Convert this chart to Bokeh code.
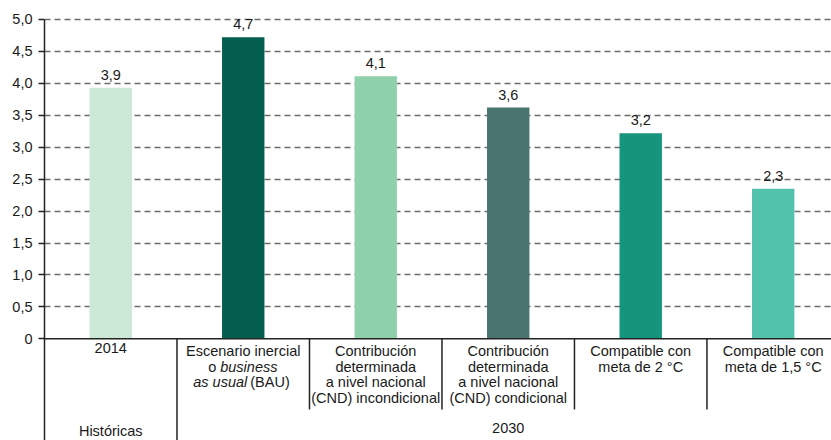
from bokeh.plotting import figure
from bokeh.models import Range1d, FixedTicker, CustomJSTickFormatter, Span, ColumnDataSource
from bokeh.core.properties import value
from bokeh.embed import file_html
from bokeh.resources import INLINE

# ---- data ----
categories = ["2014", "BAU", "CND incondicional", "CND condicional", "Meta 2 °C", "Meta 1,5 °C"]
values = [3.93, 4.72, 4.11, 3.62, 3.22, 2.35]
value_labels = ["3,9", "4,7", "4,1", "3,6", "3,2", "2,3"]
colors = ["#cce8d6", "#035e4e", "#8fd1ab", "#4a756e", "#14957c", "#52c2ab"]
y_ticks = [0, 0.5, 1.0, 1.5, 2.0, 2.5, 3.0, 3.5, 4.0, 4.5, 5.0]
cat_lines = [
    ["2014"],
    ["Escenario inercial"],
    ["Contribución", "determinada", "a nivel nacional", "(CND) incondicional"],
    ["Contribución", "determinada", "a nivel nacional", "(CND) condicional"],
    ["Compatible con", "meta de 2 °C"],
    ["Compatible con", "meta de 1,5 °C"],
]
group_labels = ["Históricas", "2030"]
group_first = [0, 1]
group_last = [0, 5]

FONT = "Liberation Sans"
FS = "14.5px"
TXT = "#1a1a1a"
LINE = "#222222"

n = len(categories)
centers = [i + 0.5 for i in range(n)]
y_min, y_max = -1.592, 5.297

p = figure(width=831, height=440, output_backend="svg", toolbar_location=None,
           x_range=Range1d(0, 5.94), y_range=Range1d(y_min, y_max),
           min_border_left=44, min_border_right=0, min_border_top=0, min_border_bottom=0)
p.outline_line_color = None
p.xaxis.visible = False
p.xgrid.visible = False

ax = p.yaxis[0]
ax.ticker = FixedTicker(ticks=y_ticks)
ax.bounds = (y_min, 5.0)
ax.formatter = CustomJSTickFormatter(code="return tick == 0 ? '0' : tick.toFixed(1).replace('.', ',');")
ax.major_tick_in = 0
ax.major_tick_out = 6
ax.minor_tick_out = 0
ax.minor_tick_in = 0
ax.major_label_standoff = 6
ax.axis_line_color = LINE
ax.axis_line_width = 1.5
ax.major_tick_line_color = LINE
ax.major_tick_line_width = 1.3
ax.major_label_text_font = FONT
ax.major_label_text_font_size = FS
ax.major_label_text_color = TXT

p.ygrid.ticker = FixedTicker(ticks=y_ticks[1:])
p.ygrid.grid_line_color = "#6b6b6b"
p.ygrid.grid_line_dash = "6 4"
p.ygrid.grid_line_width = 1.3

# bars
src = ColumnDataSource(dict(x=centers, top=values, color=colors, label=value_labels))
p.vbar(x="x", top="top", bottom=0, width=0.32, fill_color="color", line_color=None, source=src)
p.text(x="x", y="top", text="label", source=src, text_align="center", text_baseline="bottom",
       y_offset=-8, text_font=value(FONT), text_font_size=FS, text_color=TXT)

# x axis line at 0
p.add_layout(Span(location=0, dimension="width", line_color=LINE, line_width=1.5))

# category separators
sep_x = [float(i) for i in range(1, n)]
sep_bottom = [y_min if i in [g + 1 for g in group_last[:-1]] else -1.106 for i in range(1, n)]
p.segment(x0=sep_x, y0=[0] * len(sep_x), x1=sep_x, y1=sep_bottom, line_color=LINE, line_width=1.5)

# category labels
LH = 15.7
tx, ty, toff, ttext = [], [], [], []
for i, lines in enumerate(cat_lines):
    for j, t in enumerate(lines):
        tx.append(centers[i]); ty.append(0); toff.append(4 + j * LH); ttext.append(t)
p.text(x=tx, y=ty, text=ttext, y_offset=toff, text_align="center", text_baseline="top",
       text_font=value(FONT), text_font_size=FS, text_color=TXT)

# BAU mixed-style lines
c = centers[1]
p.text(x=[c, c], y=[0, 0], text=["o", "(BAU)"], x_offset=[-35, 7], y_offset=[4 + LH, 4 + 2 * LH],
       text_align="left", text_baseline="top", text_font=value(FONT), text_font_size=FS, text_color=TXT)
p.text(x=[c, c], y=[0, 0], text=["business", "as usual"], x_offset=[-23, -50], y_offset=[4 + LH, 4 + 2 * LH],
       text_align="left", text_baseline="top", text_font=value(FONT), text_font_size=FS,
       text_font_style="italic", text_color=TXT)

# group labels
gx = [(centers[a] + centers[b]) / 2 for a, b in zip(group_first, group_last)]
p.text(x=gx, y=[0] * len(gx), text=group_labels, y_offset=84, text_align="center", text_baseline="top",
       text_font=value(FONT), text_font_size=FS, text_color=TXT)

open("out.html", "w").write(file_html(p, INLINE))
